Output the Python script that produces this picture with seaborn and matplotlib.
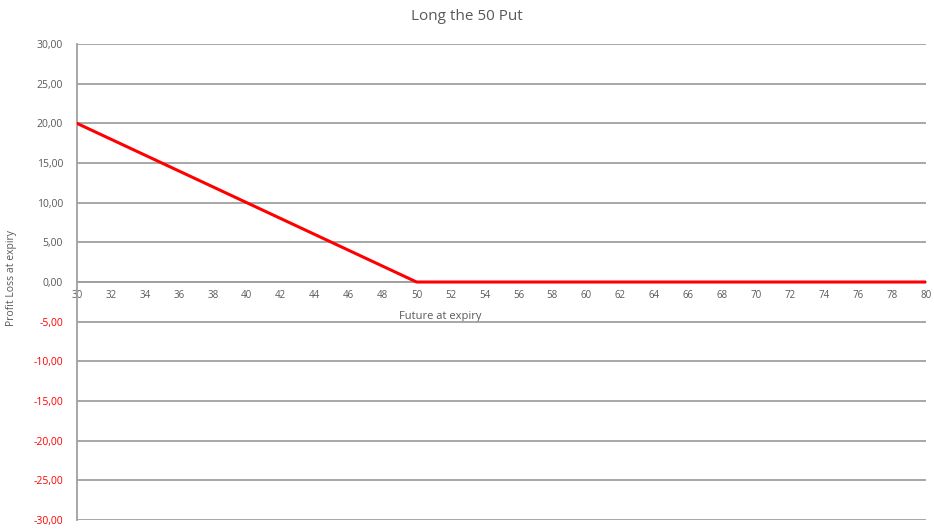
import matplotlib
matplotlib.use("Agg")
import matplotlib.pyplot as plt
import seaborn as sns
import pandas as pd

# Payoff of a long 50 put at expiry
future_at_expiry = [30, 32, 34, 36, 38, 40, 42, 44, 46, 48, 50, 52, 54, 56, 58,
                    60, 62, 64, 66, 68, 70, 72, 74, 76, 78, 80]
profit_loss = [20, 18, 16, 14, 12, 10, 8, 6, 4, 2, 0, 0, 0, 0, 0,
               0, 0, 0, 0, 0, 0, 0, 0, 0, 0, 0]
y_ticks = [-30, -25, -20, -15, -10, -5, 0, 5, 10, 15, 20, 25, 30]
x_ticks = list(range(30, 81, 2))

title = "Long the 50 Put"
x_label = "Future at expiry"
y_label = "Profit Loss at expiry"

sns.set_style("white")
plt.rcParams["font.family"] = ["Open Sans", "DejaVu Sans"]

df = pd.DataFrame({"future": future_at_expiry, "pl": profit_loss})

fig = plt.figure(figsize=(9.34, 5.29), dpi=100)
ax = fig.add_axes([0.0824, 0.017, 0.9090, 0.8998])

grid_col = "#a0a0a0"
text_col = "#595959"

for yv in y_ticks:
    ax.axhline(yv, color=grid_col, lw=1.3, zorder=1)

sns.lineplot(data=df, x="future", y="pl", color="#ff0000", lw=2.2, ax=ax, zorder=3)

ax.set_xlim(30, 80)
ax.set_ylim(-30, 30)

for s in ["top", "right"]:
    ax.spines[s].set_visible(False)
ax.spines["left"].set_color(grid_col)
ax.spines["left"].set_linewidth(1.3)
ax.spines["bottom"].set_position(("data", 0))
ax.spines["bottom"].set_color(grid_col)
ax.spines["bottom"].set_linewidth(1.3)

ax.set_yticks(y_ticks)
ax.set_yticklabels([f"{v:.2f}".replace(".", ",") for v in y_ticks])
ax.set_xticks(x_ticks)
ax.set_xticklabels([str(v) for v in x_ticks])

ax.tick_params(axis="y", direction="out", length=5, width=1.2, color=grid_col,
               labelsize=7.5, labelcolor=text_col, pad=5)
ax.tick_params(axis="x", direction="in", length=3, width=1.2, color=grid_col,
               labelsize=7, labelcolor=text_col, pad=6)

for lab, v in zip(ax.get_yticklabels(), y_ticks):
    if v < 0:
        lab.set_color("#ff0000")

ax.set_xlabel(x_label, fontsize=8, color=text_col)
ax.xaxis.set_label_coords(0.4276, 0.4265)
ax.xaxis.label.set_verticalalignment("center")
ax.set_ylabel(y_label, fontsize=7.5, color=text_col)
ax.yaxis.set_label_coords(-0.0766, 0.508)
ax.yaxis.label.set_verticalalignment("center")

fig.suptitle(title, x=0.5, y=1 - 17 / 529, va="center", fontsize=11, color=text_col)

fig.savefig("out.png", dpi=100)
